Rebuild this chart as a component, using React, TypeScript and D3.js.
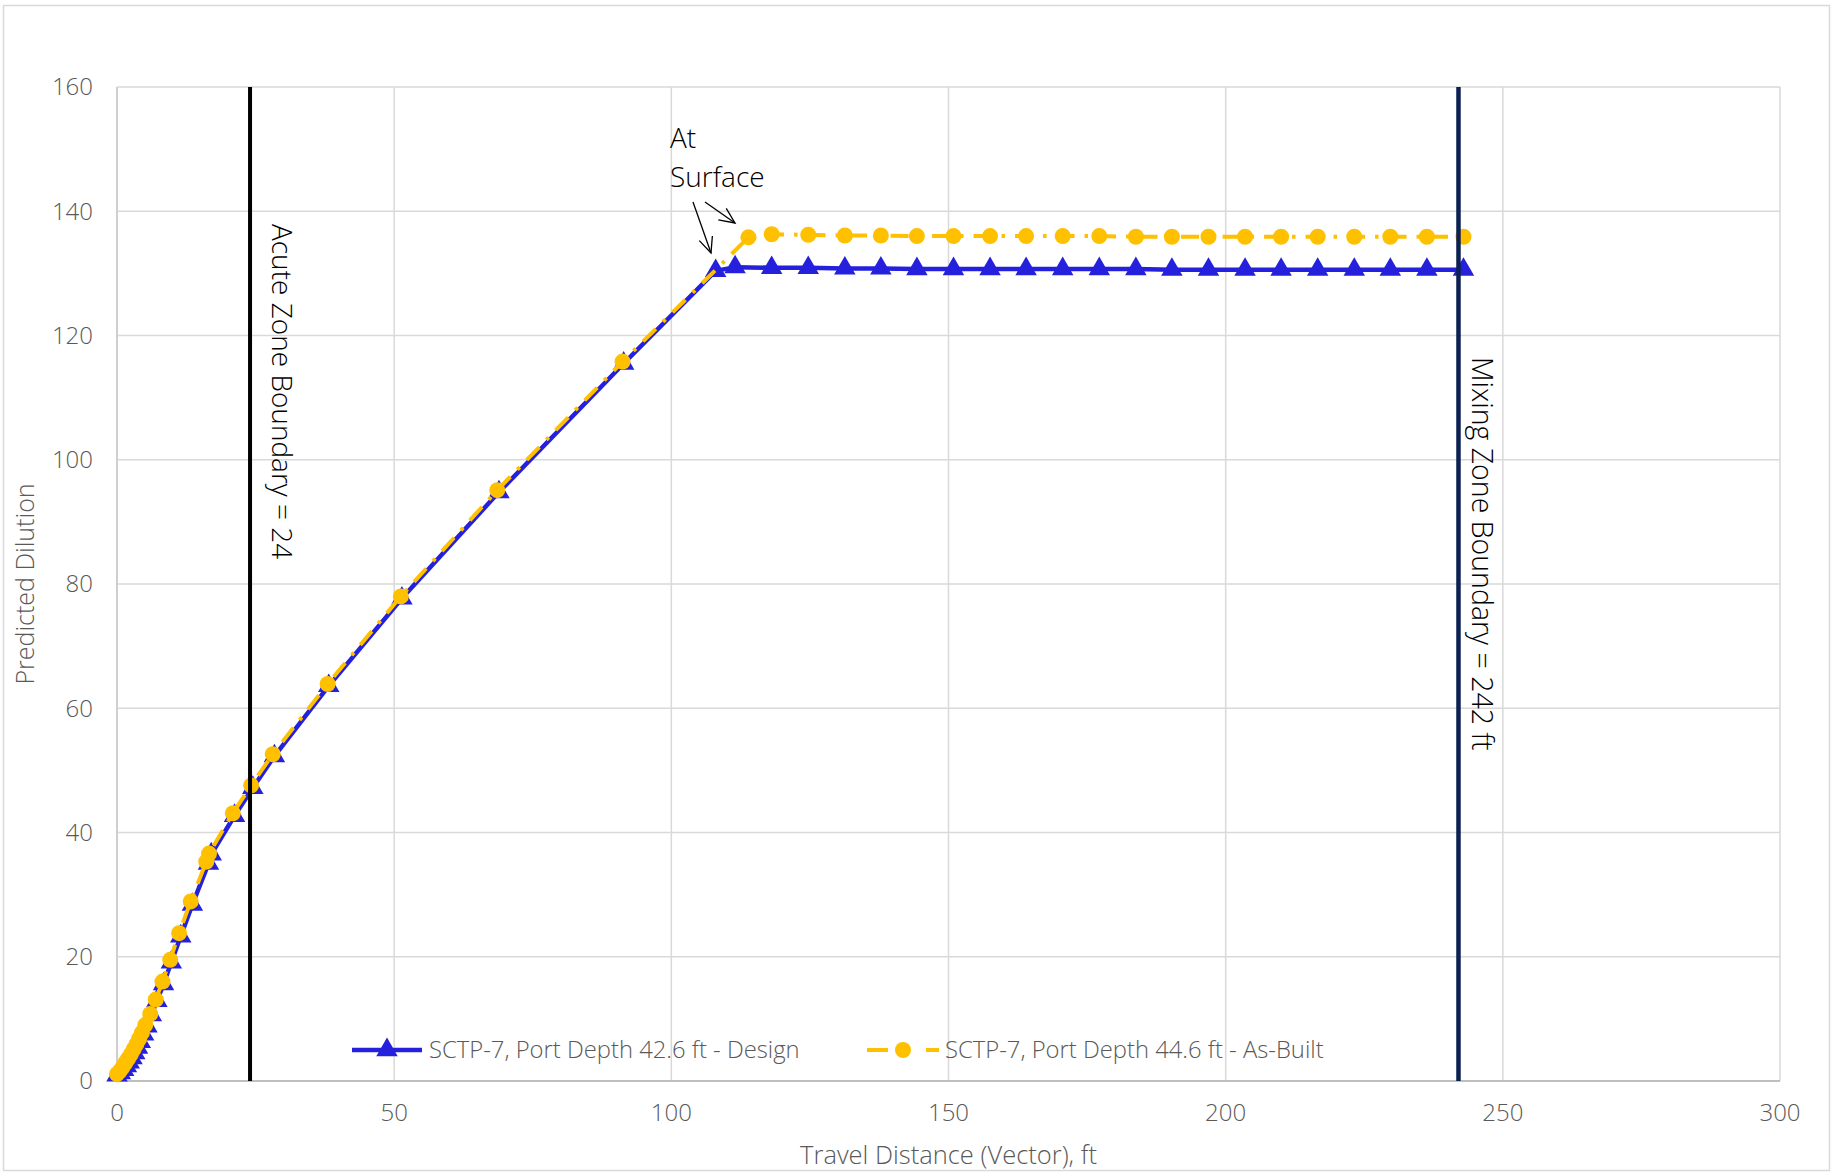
import React from "react";
import * as d3 from "d3";

// Plume dilution vs. travel distance, SCTP-7 outfall
const designX = [0, 0.6, 1.2, 1.7, 2.2, 2.7, 3.2, 3.7, 4.2, 4.8, 5.4, 6.2, 7.2, 8.4, 9.8, 11.5, 13.6, 16.5, 17.0, 21.2, 24.5, 28.4, 38.2, 51.4, 68.9, 91.4, 108.0,
  111.5, 118.1, 124.7, 131.3, 137.8, 144.3, 150.9, 157.5, 164.0, 170.6, 177.2, 183.8, 190.3, 196.9, 203.5, 210.0, 216.6, 223.2, 229.7, 236.3, 242.9];
const designY = [0.9, 1.3, 1.8, 2.4, 3.0, 3.7, 4.5, 5.4, 6.3, 7.5, 8.8, 10.6, 12.9, 15.6, 19.1, 23.3, 28.4, 35.0, 36.5, 42.7, 47.2, 52.3, 63.6, 77.7, 94.8, 115.5, 130.4,
  131.0, 130.9, 130.9, 130.8, 130.8, 130.7, 130.7, 130.7, 130.7, 130.7, 130.7, 130.7, 130.6, 130.6, 130.6, 130.6, 130.6, 130.6, 130.6, 130.6, 130.6];

const asBuiltX = [0, 0.5, 1.0, 1.5, 2.0, 2.5, 3.0, 3.5, 4.0, 4.5, 5.1, 6.0, 7.0, 8.2, 9.6, 11.2, 13.3, 16.1, 16.6, 20.9, 24.2, 28.1, 38.0, 51.2, 68.6, 91.2, 107.6,
  113.9, 118.1, 124.7, 131.3, 137.8, 144.3, 150.9, 157.5, 164.0, 170.6, 177.2, 183.8, 190.3, 196.9, 203.5, 210.0, 216.6, 223.2, 229.7, 236.3, 242.9];
const asBuiltY = [1.1, 1.6, 2.2, 2.9, 3.6, 4.3, 5.1, 5.9, 6.8, 7.8, 9.0, 10.8, 13.1, 16.0, 19.5, 23.8, 28.9, 35.3, 36.6, 43.1, 47.6, 52.6, 63.9, 78.0, 95.1, 115.8, 130.2,
  135.8, 136.3, 136.2, 136.1, 136.1, 136.0, 136.0, 136.0, 136.0, 136.0, 136.0, 135.9, 135.9, 135.9, 135.9, 135.9, 135.9, 135.9, 135.9, 135.9, 135.9];
// the as-built point at the surface transition carries no marker
const asBuiltHiddenMarkers = [26];

const xTicks = [0, 50, 100, 150, 200, 250, 300];
const yTicks = [0, 20, 40, 60, 80, 100, 120, 140, 160];

const acuteBoundary = 24;
const mixingBoundary = 242;

const seriesNames = ["SCTP-7, Port Depth 42.6 ft - Design", "SCTP-7, Port Depth 44.6 ft - As-Built"];

const W = 1837;
const H = 1173;
const plot = { left: 117, right: 1780, top: 87, bottom: 1081 };

const BLUE = "#2420DC";
const YELLOW = "#FFC000";
const GRAY_TEXT = "#595959";
const FONT = "'Open Sans', 'Noto Sans', sans-serif";
const DASH_DOT = "18 10 3.5 10";

function arrow(x1: number, y1: number, x2: number, y2: number, key: string) {
  const ang = Math.atan2(y2 - y1, x2 - x1);
  const len = 17;
  const spread = 0.42;
  const a1 = ang + Math.PI - spread;
  const a2 = ang + Math.PI + spread;
  return (
    <g key={key} stroke="#000" strokeWidth={1.3} fill="none">
      <line x1={x1} y1={y1} x2={x2} y2={y2} />
      <polyline
        points={`${x2 + len * Math.cos(a1)},${y2 + len * Math.sin(a1)} ${x2},${y2} ${x2 + len * Math.cos(a2)},${y2 + len * Math.sin(a2)}`}
      />
    </g>
  );
}

export default function App() {
  const x = d3.scaleLinear().domain([0, 300]).range([plot.left, plot.right]);
  const y = d3.scaleLinear().domain([0, 160]).range([plot.bottom, plot.top]);

  const design = designX.map((v, i) => [v, designY[i]] as [number, number]);
  const asBuilt = asBuiltX.map((v, i) => [v, asBuiltY[i]] as [number, number]);

  const line = d3
    .line<[number, number]>()
    .x((d) => x(d[0]))
    .y((d) => y(d[1]));

  const tri = d3.symbol(d3.symbolTriangle, 200)() as string;

  return (
    <div style={{ position: "absolute", left: 0, top: 0 }}>
      <svg width={W} height={H} style={{ display: "block", fontFamily: FONT }}>
        <rect x={0} y={0} width={W} height={H} fill="#fff" />
        <rect x={3.5} y={5.5} width={1826} height={1165} fill="none" stroke="#D9D9D9" strokeWidth={1.5} />

        {/* grid */}
        {yTicks.map((t) => (
          <line key={"gy" + t} x1={plot.left} x2={plot.right} y1={y(t)} y2={y(t)} stroke="#D9D9D9" strokeWidth={1.5} />
        ))}
        {xTicks.map((t) => (
          <line key={"gx" + t} x1={x(t)} x2={x(t)} y1={plot.top} y2={plot.bottom} stroke="#D9D9D9" strokeWidth={1.5} />
        ))}
        <line x1={plot.left} x2={plot.left} y1={plot.top} y2={plot.bottom} stroke="#C8C8C8" strokeWidth={1.5} />
        <line x1={plot.left} x2={plot.right} y1={plot.bottom} y2={plot.bottom} stroke="#BFBFBF" strokeWidth={2} />

        {/* tick labels */}
        {yTicks.map((t) => (
          <text key={"ty" + t} x={93} y={y(t)} dy="0.35em" textAnchor="end" fontSize={24} fontWeight={300} fill={GRAY_TEXT}>
            {t}
          </text>
        ))}
        {xTicks.map((t) => (
          <text key={"tx" + t} x={x(t)} y={1113} dy="0.35em" textAnchor="middle" fontSize={24} fontWeight={300} fill={GRAY_TEXT}>
            {t}
          </text>
        ))}

        {/* axis titles */}
        <text x={(plot.left + plot.right) / 2} y={1155} dy="0.35em" textAnchor="middle" fontSize={25.5} fontWeight={300} fill={GRAY_TEXT}>
          Travel Distance (Vector), ft
        </text>
        <text
          transform={`translate(25, ${(plot.top + plot.bottom) / 2}) rotate(-90)`}
          dy="0.35em"
          textAnchor="middle"
          fontSize={25}
          fontWeight={300}
          fill={GRAY_TEXT}
        >
          Predicted Dilution
        </text>

        {/* design series */}
        <path d={line(design) as string} fill="none" stroke={BLUE} strokeWidth={4.5} strokeLinejoin="round" />
        {design.map((d, i) => (
          <path key={"m1" + i} d={tri} transform={`translate(${x(d[0])},${y(d[1])})`} fill={BLUE} />
        ))}

        {/* as-built series */}
        <path d={line(asBuilt) as string} fill="none" stroke={YELLOW} strokeWidth={4} strokeDasharray={DASH_DOT} />
        {asBuilt.map((d, i) =>
          asBuiltHiddenMarkers.includes(i) ? null : (
            <circle key={"m2" + i} cx={x(d[0])} cy={y(d[1])} r={8} fill={YELLOW} />
          )
        )}

        {/* zone boundaries */}
        <line x1={x(acuteBoundary)} x2={x(acuteBoundary)} y1={plot.top} y2={plot.bottom} stroke="#000" strokeWidth={4} />
        <line x1={x(mixingBoundary)} x2={x(mixingBoundary)} y1={plot.top} y2={plot.bottom} stroke="#0C2052" strokeWidth={4.5} />

        <text transform={`translate(272, 224) rotate(90)`} fontSize={28} fontWeight={300} fill="#000">
          Acute Zone Boundary = 24
        </text>
        <text transform={`translate(1472, 357) rotate(90)`} fontSize={28.5} fontWeight={300} fill="#000">
          Mixing Zone Boundary = 242 ft
        </text>

        {/* surface annotation */}
        <text x={670} y={148} fontSize={28} fontWeight={300} fill="#000">
          At
        </text>
        <text x={670} y={187} fontSize={28} fontWeight={300} fill="#000">
          Surface
        </text>
        {arrow(693, 202, 711, 253, "a1")}
        {arrow(705, 202, 735, 223, "a2")}

        {/* legend */}
        <line x1={352} x2={422} y1={1050} y2={1050} stroke={BLUE} strokeWidth={4.5} />
        <path d={tri} transform="translate(387,1050)" fill={BLUE} />
        <text x={429} y={1050} dy="0.35em" fontSize={23.8} fontWeight={300} fill={GRAY_TEXT}>
          {seriesNames[0]}
        </text>
        <line x1={867} x2={888} y1={1050} y2={1050} stroke={YELLOW} strokeWidth={4} />
        <line x1={926} x2={939} y1={1050} y2={1050} stroke={YELLOW} strokeWidth={4} />
        <circle cx={903} cy={1050} r={8} fill={YELLOW} />
        <text x={945} y={1050} dy="0.35em" fontSize={23.8} fontWeight={300} fill={GRAY_TEXT}>
          {seriesNames[1]}
        </text>
      </svg>
    </div>
  );
}
